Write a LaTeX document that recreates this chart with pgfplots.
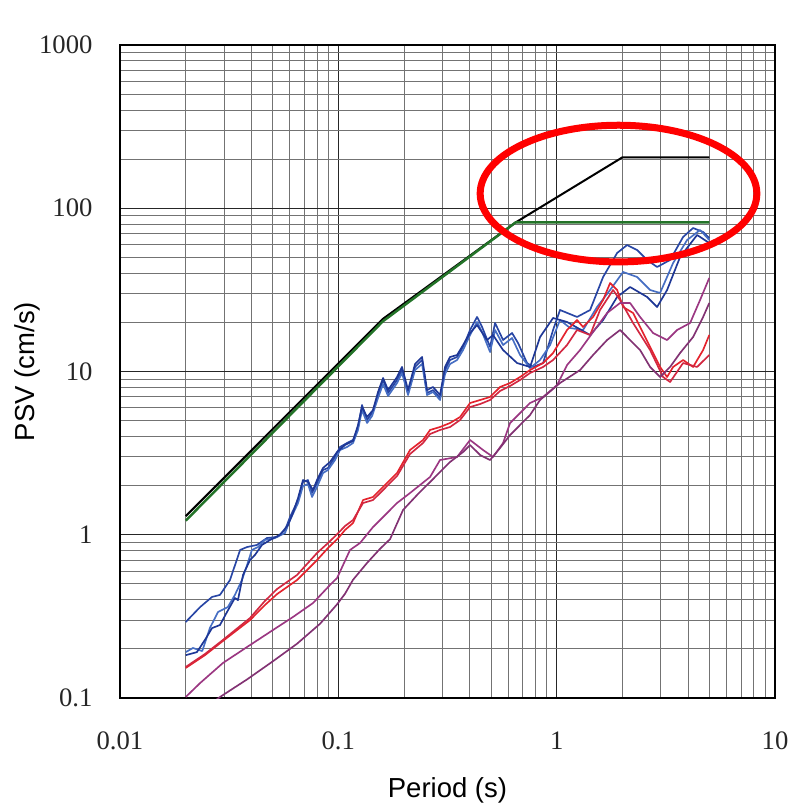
\documentclass[border=0pt]{standalone}
\usepackage{pgfplots}
\pgfplotsset{compat=1.18}
\usepackage{fontspec}
\setmainfont{Liberation Serif}
\setsansfont{Liberation Sans}
\definecolor{bluA}{RGB}{40,70,165}
\definecolor{bluB}{RGB}{70,110,195}
\definecolor{bluC}{RGB}{30,55,150}
\definecolor{redA}{RGB}{228,35,45}
\definecolor{redB}{RGB}{210,40,65}
\definecolor{purA}{RGB}{155,55,130}
\definecolor{purB}{RGB}{130,50,115}
\definecolor{grnA}{RGB}{35,115,40}
\begin{document}
\begin{tikzpicture}
\begin{axis}[
  scale only axis, width=393pt, height=391.8pt,
  xmode=log, ymode=log, xmin=0.01, xmax=10, ymin=0.1, ymax=1000,
  xtick={0.01,0.1,1,10}, xticklabels={0.01,0.1,1,10},
  ytick={0.1,1,10,100,1000}, yticklabels={0.1,1,10,100,1000},
  minor xtick={0.02,0.03,0.04,0.05,0.06,0.07,0.08,0.09,0.2,0.3,0.4,0.5,0.6,0.7,0.8,0.9,2,3,4,5,6,7,8,9},
  minor ytick={0.2,0.3,0.4,0.5,0.6,0.7,0.8,0.9,2,3,4,5,6,7,8,9,20,30,40,50,60,70,80,90,200,300,400,500,600,700,800,900},
  grid=both,
  major grid style={black!85, line width=0.8pt},
  minor grid style={black!55, line width=0.5pt},
  axis line style={line width=1.5pt},
  major tick length=0pt, minor tick length=0pt,
  /pgf/number format/assume math mode=true,
  tick label style={font=\fontsize{16}{16}\selectfont, black!85},
  xticklabel style={yshift=-17pt},
  yticklabel style={xshift=-13pt},
  xlabel={Period (s)}, ylabel={PSV (cm/s)},
  xlabel style={font=\fontsize{16.5}{18}\selectfont\sffamily, at={(axis description cs:0.5,-0.141)}, anchor=center},
  ylabel style={font=\fontsize{16.5}{18}\selectfont\sffamily, at={(axis description cs:-0.142,0.5)}, anchor=center},
  no markers, every axis plot/.append style={line join=round},
  clip=true,
]
\coordinate (ll) at (rel axis cs:0,0);
\coordinate (ur) at (rel axis cs:1,1);
% design spectra
\addplot[black, line width=1.2pt] coordinates {(0.02,1.30)(0.16,21.0)(0.65,82)(2.0,205)(5.0,205)};
\addplot[grnA, line width=1.5pt] coordinates {(0.02,1.22)(0.16,20.3)(0.65,82)(5.0,82)};
% blue records
\addplot[bluA, line width=1pt] coordinates {
(0.02,0.292)(0.0233,0.361)(0.0264,0.416)(0.0287,0.428)(0.0319,0.528)(0.0355,0.807)
(0.0382,0.841)(0.0424,0.866)(0.0471,0.955)(0.0524,0.969)(0.0570,1.069)(0.0601,1.284)
(0.0654,1.632)(0.0689,2.104)(0.0726,2.164)(0.0758,1.802)(0.0799,2.075)(0.0851,2.493)
(0.0897,2.565)(0.0966,2.994)(0.1018,3.448)(0.1096,3.648)(0.1168,3.805)(0.1231,4.571)
(0.1284,6.233)(0.1354,5.045)(0.1427,5.568)(0.1520,7.178)(0.1603,8.87)(0.1690,7.383)
(0.1858,8.87)(0.1958,10.21)(0.2086,7.383)(0.2246,10.66)(0.2418,11.76)(0.2549,7.383)
(0.2716,7.70)(0.2923,6.884)(0.3082,10.21)(0.3249,11.76)(0.3499,12.27)(0.3727,14.13)
(0.4012,17.96)(0.4319,21.58)(0.4554,18.74)(0.4955,14.13)(0.5223,19.82)(0.5683,15.59)
(0.6248,17.21)(0.6656,14.95)(0.7318,11.27)(0.7798,10.66)(0.8666,11.27)(0.9629,17.96)
(1.036,23.81)(1.240,21.58)(1.423,23.81)(1.632,37.93)(1.892,53.20)(2.102,59.56)
(2.336,55.49)(2.596,48.2)(2.884,43.66)(3.308,48.2)(3.794,66.67)(4.216,75.68)
(4.685,71.53)(5.0,65.74)};
\addplot[bluB, line width=1pt] coordinates {
(0.02,0.191)(0.0216,0.2025)(0.0238,0.194)(0.0258,0.268)(0.0281,0.336)(0.0312,0.361)
(0.0336,0.428)(0.0362,0.528)(0.0382,0.653)(0.0402,0.807)(0.0429,0.841)(0.0461,0.929)
(0.0513,0.955)(0.0570,1.025)(0.0601,1.231)(0.0654,1.565)(0.0689,1.989)(0.0726,2.046)
(0.0758,1.703)(0.0799,1.962)(0.0851,2.390)(0.0897,2.493)(0.0966,2.870)(0.1018,3.304)
(0.1096,3.448)(0.1168,3.648)(0.1231,4.383)(0.1284,5.808)(0.1354,4.836)(0.1427,5.337)
(0.1520,6.884)(0.1603,8.382)(0.1690,7.080)(0.1858,8.50)(0.1958,9.79)(0.2086,7.178)
(0.2246,10.21)(0.2418,11.12)(0.2549,7.178)(0.2716,7.49)(0.2923,6.69)(0.3082,9.654)
(0.3249,11.12)(0.3499,11.76)(0.3727,13.54)(0.4012,16.73)(0.4319,20.11)(0.4554,17.45)
(0.4955,13.16)(0.5223,17.96)(0.5683,14.53)(0.6248,16.04)(0.6798,12.62)(0.7553,10.50)
(0.8395,11.76)(0.9329,14.53)(1.036,20.67)(1.152,18.48)(1.321,17.96)(1.531,24.84)
(1.757,31.57)(2.015,40.70)(2.336,37.93)(2.679,31.57)(2.976,30.27)(3.415,46.19)
(3.958,63.9)(4.538,73.57)(5.0,63.9)};
\addplot[bluC, line width=1pt] coordinates {
(0.02,0.183)(0.0225,0.191)(0.0245,0.227)(0.0264,0.268)(0.0287,0.280)(0.0309,0.336)
(0.0336,0.410)(0.0347,0.398)(0.0366,0.567)(0.0394,0.700)(0.0415,0.752)(0.0447,0.866)
(0.0487,0.929)(0.0541,1.0)(0.0588,1.147)(0.0620,1.359)(0.0654,1.68)(0.0689,2.164)
(0.0726,2.104)(0.0766,1.880)(0.0799,2.164)(0.0851,2.565)(0.0916,2.790)(0.0987,3.213)
(0.1073,3.546)(0.1168,3.752)(0.1231,4.702)(0.1284,6.058)(0.1354,5.263)(0.1442,5.808)
(0.1520,7.49)(0.1603,9.125)(0.1690,7.70)(0.1858,9.254)(0.1958,10.66)(0.2086,7.70)
(0.2246,11.12)(0.2418,12.27)(0.2549,7.70)(0.2716,8.035)(0.2923,7.178)(0.3082,10.66)
(0.3249,12.27)(0.3499,12.62)(0.3727,14.53)(0.4012,17.21)(0.4319,19.27)(0.4799,15.59)
(0.5113,16.73)(0.5683,13.54)(0.6586,11.27)(0.7553,10.66)(0.8395,16.27)(0.9629,21.27)
(1.116,20.11)(1.423,16.73)(1.632,20.67)(1.892,28.61)(2.169,32.93)(2.596,28.61)
(2.884,24.84)(3.205,31.57)(3.675,50.28)(4.397,68.58)(5.0,61.26)};
% red records
\addplot[redA, line width=1pt] coordinates {
(0.02,0.1527)(0.0245,0.183)(0.0296,0.2235)(0.0394,0.300)(0.0461,0.371)(0.0524,0.433)
(0.0647,0.528)(0.0799,0.700)(0.0897,0.8295)(0.1,0.955)(0.1073,1.069)(0.1168,1.180)
(0.1298,1.632)(0.1442,1.703)(0.1603,1.962)(0.1858,2.390)(0.2130,3.304)(0.2443,3.805)
(0.2631,4.383)(0.2923,4.571)(0.3249,4.836)(0.3610,5.263)(0.4012,6.412)(0.4460,6.69)
(0.4955,6.981)(0.5505,8.035)(0.6118,8.50)(0.6798,9.254)(0.7553,10.21)(0.8666,11.27)
(0.9629,12.98)(1.116,17.96)(1.240,20.67)(1.321,18.74)(1.468,21.58)(1.632,27.42)
(1.757,34.84)(1.892,31.57)(2.015,24.84)(2.239,22.82)(2.410,18.74)(2.679,14.13)
(2.976,10.66)(3.205,9.254)(3.415,10.66)(3.794,11.76)(4.216,10.66)(4.685,13.54)
(5.0,16.73)};
\addplot[redB, line width=1pt] coordinates {
(0.02,0.1549)(0.0245,0.186)(0.0296,0.2267)(0.0394,0.309)(0.0461,0.393)(0.0524,0.465)
(0.0647,0.567)(0.0799,0.773)(0.0897,0.890)(0.1,1.025)(0.1073,1.131)(0.1168,1.231)
(0.1298,1.565)(0.1442,1.632)(0.1603,1.880)(0.1858,2.291)(0.2130,3.123)(0.2443,3.648)
(0.2631,4.142)(0.2923,4.383)(0.3249,4.571)(0.3610,5.045)(0.4012,6.058)(0.4460,6.321)
(0.4955,6.69)(0.5505,7.595)(0.6118,8.149)(0.6798,8.87)(0.7553,9.79)(0.8666,10.66)
(0.9629,11.76)(1.116,14.53)(1.240,17.96)(1.423,16.73)(1.580,23.81)(1.813,31.57)
(1.952,27.42)(2.239,19.82)(2.679,13.54)(3.073,9.254)(3.308,8.624)(3.794,11.27)
(4.397,10.66)(5.0,12.62)};
% purple records
\addplot[purA, line width=1pt] coordinates {
(0.02,0.1014)(0.0233,0.1236)(0.0296,0.1638)(0.0382,0.2053)(0.0502,0.2609)(0.0620,0.3135)
(0.0766,0.3818)(0.0916,0.4922)(0.0987,0.5434)(0.1131,0.8066)(0.1257,0.8901)(0.1442,1.115)
(0.1637,1.321)(0.1858,1.565)(0.2130,1.802)(0.2367,2.017)(0.2631,2.259)(0.2923,2.870)
(0.3499,2.994)(0.4012,3.805)(0.4602,3.304)(0.5113,2.994)(0.5683,3.648)(0.6118,4.836)
(0.6798,5.568)(0.7553,6.412)(0.8666,6.981)(1.0044,8.265)(1.116,10.96)(1.280,13.54)
(1.468,17.45)(1.702,22.82)(1.952,26.28)(2.169,26.28)(2.410,21.58)(2.765,17.21)
(3.205,15.59)(3.562,17.96)(4.085,19.82)(4.538,27.42)(5.0,37.40)};
\addplot[purB, line width=1pt] coordinates {
(0.02,0.0693)(0.0233,0.0821)(0.0287,0.1014)(0.0382,0.130)(0.0502,0.168)(0.0647,0.215)
(0.0825,0.285)(0.0987,0.375)(0.1073,0.435)(0.1168,0.530)(0.1354,0.672)(0.1552,0.820)
(0.1726,0.940)(0.1979,1.418)(0.2294,1.752)(0.2631,2.104)(0.3249,2.790)(0.3727,3.213)
(0.4012,3.546)(0.4460,3.079)(0.4955,2.870)(0.5505,3.400)(0.6118,4.083)(0.6798,4.702)
(0.7553,5.413)(0.8395,6.69)(1.036,8.50)(1.280,10.21)(1.468,12.62)(1.702,15.59)
(1.952,17.96)(2.169,15.59)(2.410,13.54)(2.679,10.66)(2.976,9.254)(3.308,10.66)
(3.675,12.98)(4.216,16.27)(4.685,21.58)(5.0,26.28)};
% highlight
\draw[red, line width=4.2pt] (axis cs:1.92,123) ellipse [x radius=83pt, y radius=41pt];
\node[anchor=base east, inner sep=0pt, font=\fontsize{14}{14}\selectfont\sffamily, black!85]
  at (rel axis cs:1,1) [xshift=-1.8pt, yshift=10.2pt] {h=0.05};
\end{axis}
\pgfresetboundingbox
\path[use as bounding box] ([xshift=-72pt,yshift=-63.6pt]ll) rectangle ([xshift=11.4pt,yshift=27pt]ur);
\end{tikzpicture}
\end{document}
